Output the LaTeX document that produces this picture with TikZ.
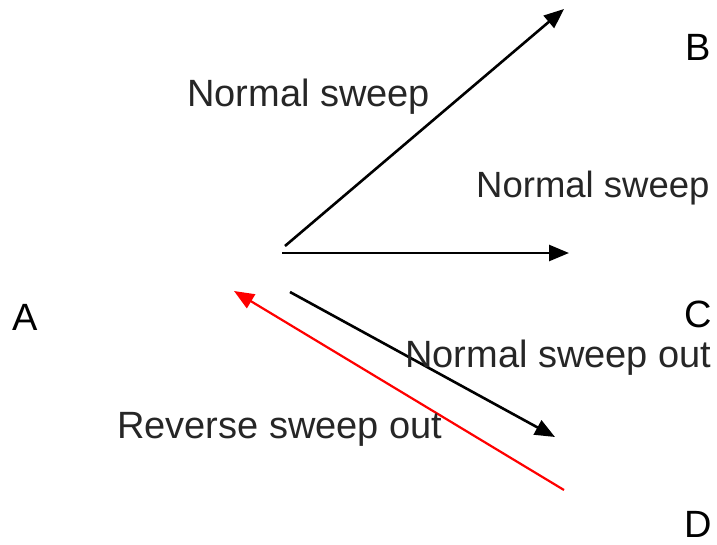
\documentclass[tikz,border=0pt]{standalone}
\usepackage{fontspec}
\setmainfont{Liberation Sans}
\usetikzlibrary{arrows.meta}
\tikzset{
  conn/.style={line width=2.6pt,-{Triangle[length=20pt,width=16pt]}},
  lbl/.style={anchor=base west,inner sep=0pt,font=\fontsize{38}{42}\selectfont,text=black!85},
  letter/.style={anchor=base,inner sep=0pt,font=\fontsize{38}{42}\selectfont}
}
\begin{document}
\begin{tikzpicture}[x=1pt,y=-1pt]
\useasboundingbox (0,0) rectangle (717,544);
% endpoints
\coordinate (s1) at (285,246);
\coordinate (e1) at (564,9);
\coordinate (s2) at (282,253);
\coordinate (e2) at (569,253);
\coordinate (s3) at (290,292);
\coordinate (e3) at (555,437);
\coordinate (s4) at (564,490);
\coordinate (e4) at (234,291);
% connectors
\draw[conn] (s1) -- (e1);
\draw[conn] (s2) -- (e2);
\draw[conn] (s3) -- (e3);
\draw[conn,red,line width=2.2pt] (s4) -- (e4);
% labels
\node[lbl] (t1) at (187,106) {Normal sweep};
\node[lbl,font=\fontsize{36.5}{42}\selectfont] (t2) at (476,197) {Normal sweep};
\node[lbl] (t3) at (405,367) {Normal sweep out};
\node[lbl] (t4) at (117,438) {Reverse sweep out};
\node[letter] (A) at (25,330) {A};
\node[letter] (B) at (698,60) {B};
\node[letter] (C) at (698,327) {C};
\node[letter] (D) at (698,537) {D};
\end{tikzpicture}
\end{document}
